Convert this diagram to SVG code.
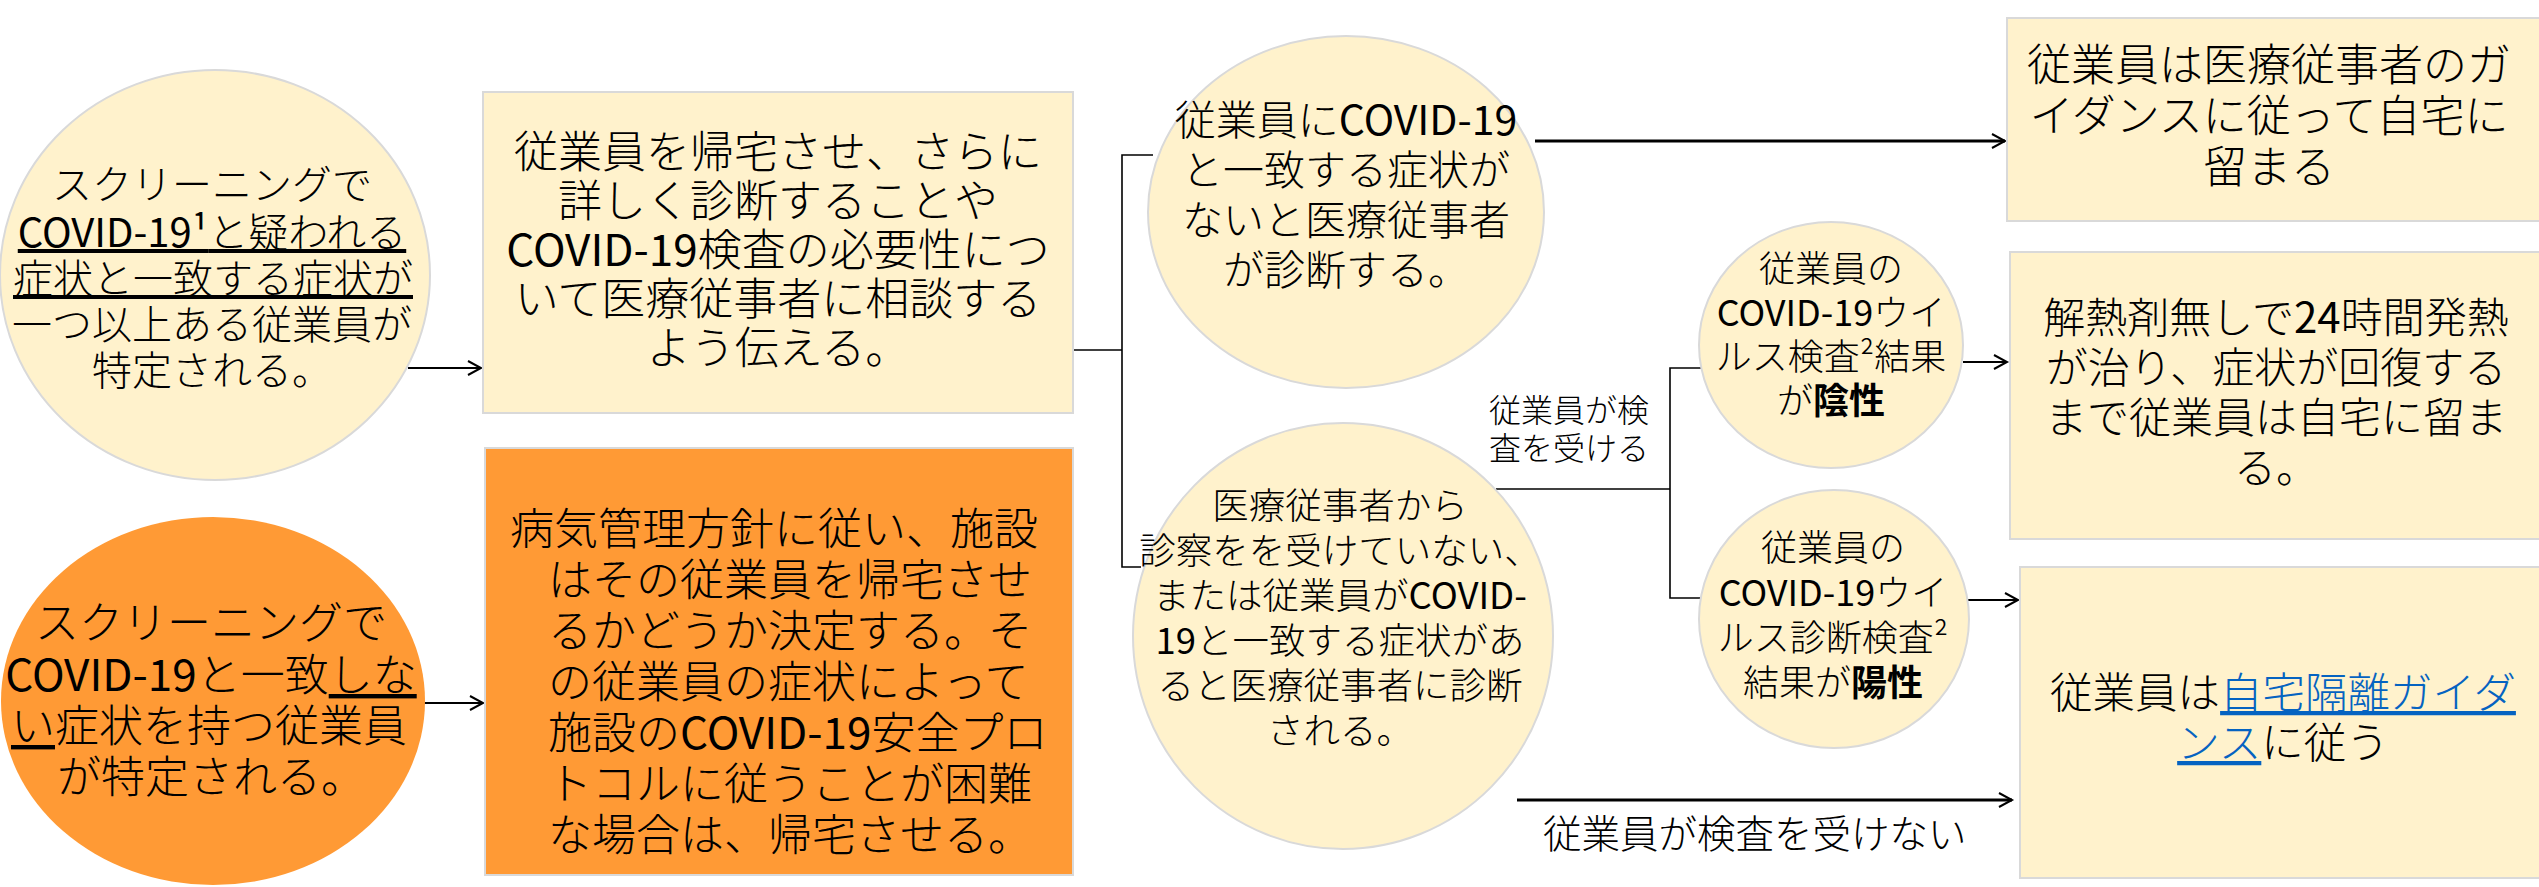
<svg xmlns="http://www.w3.org/2000/svg" width="2539" height="887" viewBox="0 0 2539 887">
<style>
.c{fill:#FFF2CC;stroke:#D9D9D9;stroke-width:2}
.ob{fill:#FF9A35;stroke:#D9D9D9;stroke-width:2}
.oc{fill:#FF9A35}
.t{font-family:"Noto Sans CJK JP","Noto Sans",sans-serif;fill:#000;font-weight:300}
.m{text-anchor:middle}
.u{text-decoration:underline}
.b{font-weight:bold}
.lat{font-weight:400}
.lnk{fill:#0563C1;text-decoration:underline}
.ln{fill:none;stroke:#000;stroke-width:1.6}
.ar{fill:none;stroke:#000;stroke-width:2}
.ar3{fill:none;stroke:#000;stroke-width:3}
</style>
<defs>
<marker id="ah" markerUnits="userSpaceOnUse" markerWidth="20" markerHeight="20" refX="16" refY="10" orient="auto">
<path d="M3,3 L16,10 L3,17" fill="none" stroke="#000" stroke-width="2"/>
</marker>
</defs>
<rect width="2539" height="887" fill="#FFFFFF"/>

<g id="connectors">
<line class="ar" x1="408" y1="368" x2="481" y2="368" marker-end="url(#ah)"/>
<line class="ar" x1="423" y1="703" x2="483" y2="703" marker-end="url(#ah)"/>
<polyline class="ln" points="1073,350 1122,350"/>
<polyline class="ln" points="1153,155 1122,155 1122,567 1141,567"/>
<line class="ar3" x1="1535" y1="141" x2="2005" y2="141" marker-end="url(#ah)"/>
<polyline class="ln" points="1496,489 1670,489"/>
<polyline class="ln" points="1702,368 1670,368 1670,598 1700,598"/>
<line class="ar" x1="1963" y1="362" x2="2007" y2="362" marker-end="url(#ah)"/>
<line class="ar" x1="1968" y1="600" x2="2018" y2="600" marker-end="url(#ah)"/>
<line class="ar3" x1="1517" y1="800" x2="2012" y2="800" marker-end="url(#ah)"/>
<text class="t" font-size="32"><tspan x="1489" y="422">従業員が検</tspan><tspan x="1489" y="460">査を受ける</tspan></text>
<text class="t" font-size="38.5" x="1543" y="848">従業員が検査を受けない</text>
</g>

<g id="n1">
<ellipse class="c" cx="215" cy="275" rx="215" ry="205"/>
<text class="t m" font-size="40"><tspan x="212" y="199">スクリーニングで</tspan><tspan x="212" y="247" class="u"><tspan class="lat">COVID-19¹</tspan>と疑われる</tspan><tspan x="213" y="293" class="u">症状と一致する症状が</tspan><tspan x="212" y="339">一つ以上ある従業員が</tspan><tspan x="212" y="385">特定される。</tspan></text>
</g>

<g id="n2">
<ellipse class="oc" cx="213" cy="701" rx="212" ry="184"/>
<text class="t m" font-size="44"><tspan x="211" y="639">スクリーニングで</tspan><tspan x="211" y="691"><tspan class="lat">COVID-19</tspan>と一致<tspan class="u">しな</tspan></tspan><tspan x="209" y="742"><tspan class="u">い</tspan>症状を持つ従業員</tspan><tspan x="211" y="793">が特定される。</tspan></text>
</g>

<g id="n3">
<rect class="c" x="483" y="92" width="590" height="321"/>
<text class="t m" font-size="44"><tspan x="778" y="168">従業員を帰宅させ、さらに</tspan><tspan x="778" y="217">詳しく診断することや</tspan><tspan x="778" y="266"><tspan class="lat">COVID-19</tspan>検査の必要性につ</tspan><tspan x="778" y="315">いて医療従事者に相談する</tspan><tspan x="778" y="364">よう伝える。</tspan></text>
</g>

<g id="n4">
<rect class="ob" x="485" y="448" width="588" height="427"/>
<text class="t" font-size="44"><tspan x="510" y="545">病気管理方針に従い、施設</tspan><tspan x="548" y="596">はその従業員を帰宅させ</tspan><tspan x="548" y="647">るかどうか決定する。そ</tspan><tspan x="548" y="698">の従業員の症状によって</tspan><tspan x="548" y="749">施設の<tspan class="lat">COVID-19</tspan>安全プロ</tspan><tspan x="548" y="800">トコルに従うことが困難</tspan><tspan x="548" y="851">な場合は、帰宅させる。</tspan></text>
</g>

<g id="n5">
<ellipse class="c" cx="1346" cy="212" rx="198" ry="176"/>
<text class="t m" font-size="41"><tspan x="1346" y="135">従業員に<tspan class="lat">COVID-19</tspan></tspan><tspan x="1346" y="185">と一致する症状が</tspan><tspan x="1346" y="235">ないと医療従事者</tspan><tspan x="1346" y="285">が診断する。</tspan></text>
</g>

<g id="n6">
<ellipse class="c" cx="1343" cy="636" rx="210" ry="213"/>
<text class="t m" font-size="36.5"><tspan x="1340" y="519">医療従事者から</tspan><tspan x="1340" y="564">診察をを受けていない、</tspan><tspan x="1340" y="609">または従業員が<tspan class="lat">COVID-</tspan></tspan><tspan x="1340" y="654"><tspan class="lat">19</tspan>と一致する症状があ</tspan><tspan x="1340" y="699">ると医療従事者に診断</tspan><tspan x="1340" y="744">される。</tspan></text>
</g>

<g id="n7">
<ellipse class="c" cx="1831" cy="345" rx="132" ry="123"/>
<text class="t m" font-size="36"><tspan x="1831" y="282">従業員の</tspan><tspan x="1831" y="326"><tspan class="lat">COVID-19</tspan>ウイ</tspan><tspan x="1831" y="370">ルス検査²結果</tspan><tspan x="1831" y="414">が<tspan class="b">陰性</tspan></tspan></text>
</g>

<g id="n8">
<ellipse class="c" cx="1834" cy="619" rx="135" ry="129"/>
<text class="t m" font-size="36"><tspan x="1833" y="561">従業員の</tspan><tspan x="1833" y="606"><tspan class="lat">COVID-19</tspan>ウイ</tspan><tspan x="1833" y="651">ルス診断検査²</tspan><tspan x="1833" y="696">結果が<tspan class="b">陽性</tspan></tspan></text>
</g>

<g id="n9">
<rect class="c" x="2007" y="18" width="560" height="203"/>
<text class="t m" font-size="44"><tspan x="2269" y="81">従業員は医療従事者のガ</tspan><tspan x="2269" y="132">イダンスに従って自宅に</tspan><tspan x="2269" y="183">留まる</tspan></text>
</g>

<g id="n10">
<rect class="c" x="2010" y="252" width="560" height="287"/>
<text class="t m" font-size="42"><tspan x="2276" y="333">解熱剤無しで<tspan class="lat">24</tspan>時間発熱</tspan><tspan x="2276" y="383">が治り、症状が回復する</tspan><tspan x="2276" y="433">まで従業員は自宅に留ま</tspan><tspan x="2276" y="483">る。</tspan></text>
</g>

<g id="n11">
<rect class="c" x="2020" y="567" width="560" height="311"/>
<text class="t m" font-size="42.5"><tspan x="2283" y="708">従業員は<tspan class="lnk">自宅隔離ガイダ</tspan></tspan><tspan x="2283" y="758"><tspan class="lnk">ンス</tspan>に従う</tspan></text>
</g>
</svg>
